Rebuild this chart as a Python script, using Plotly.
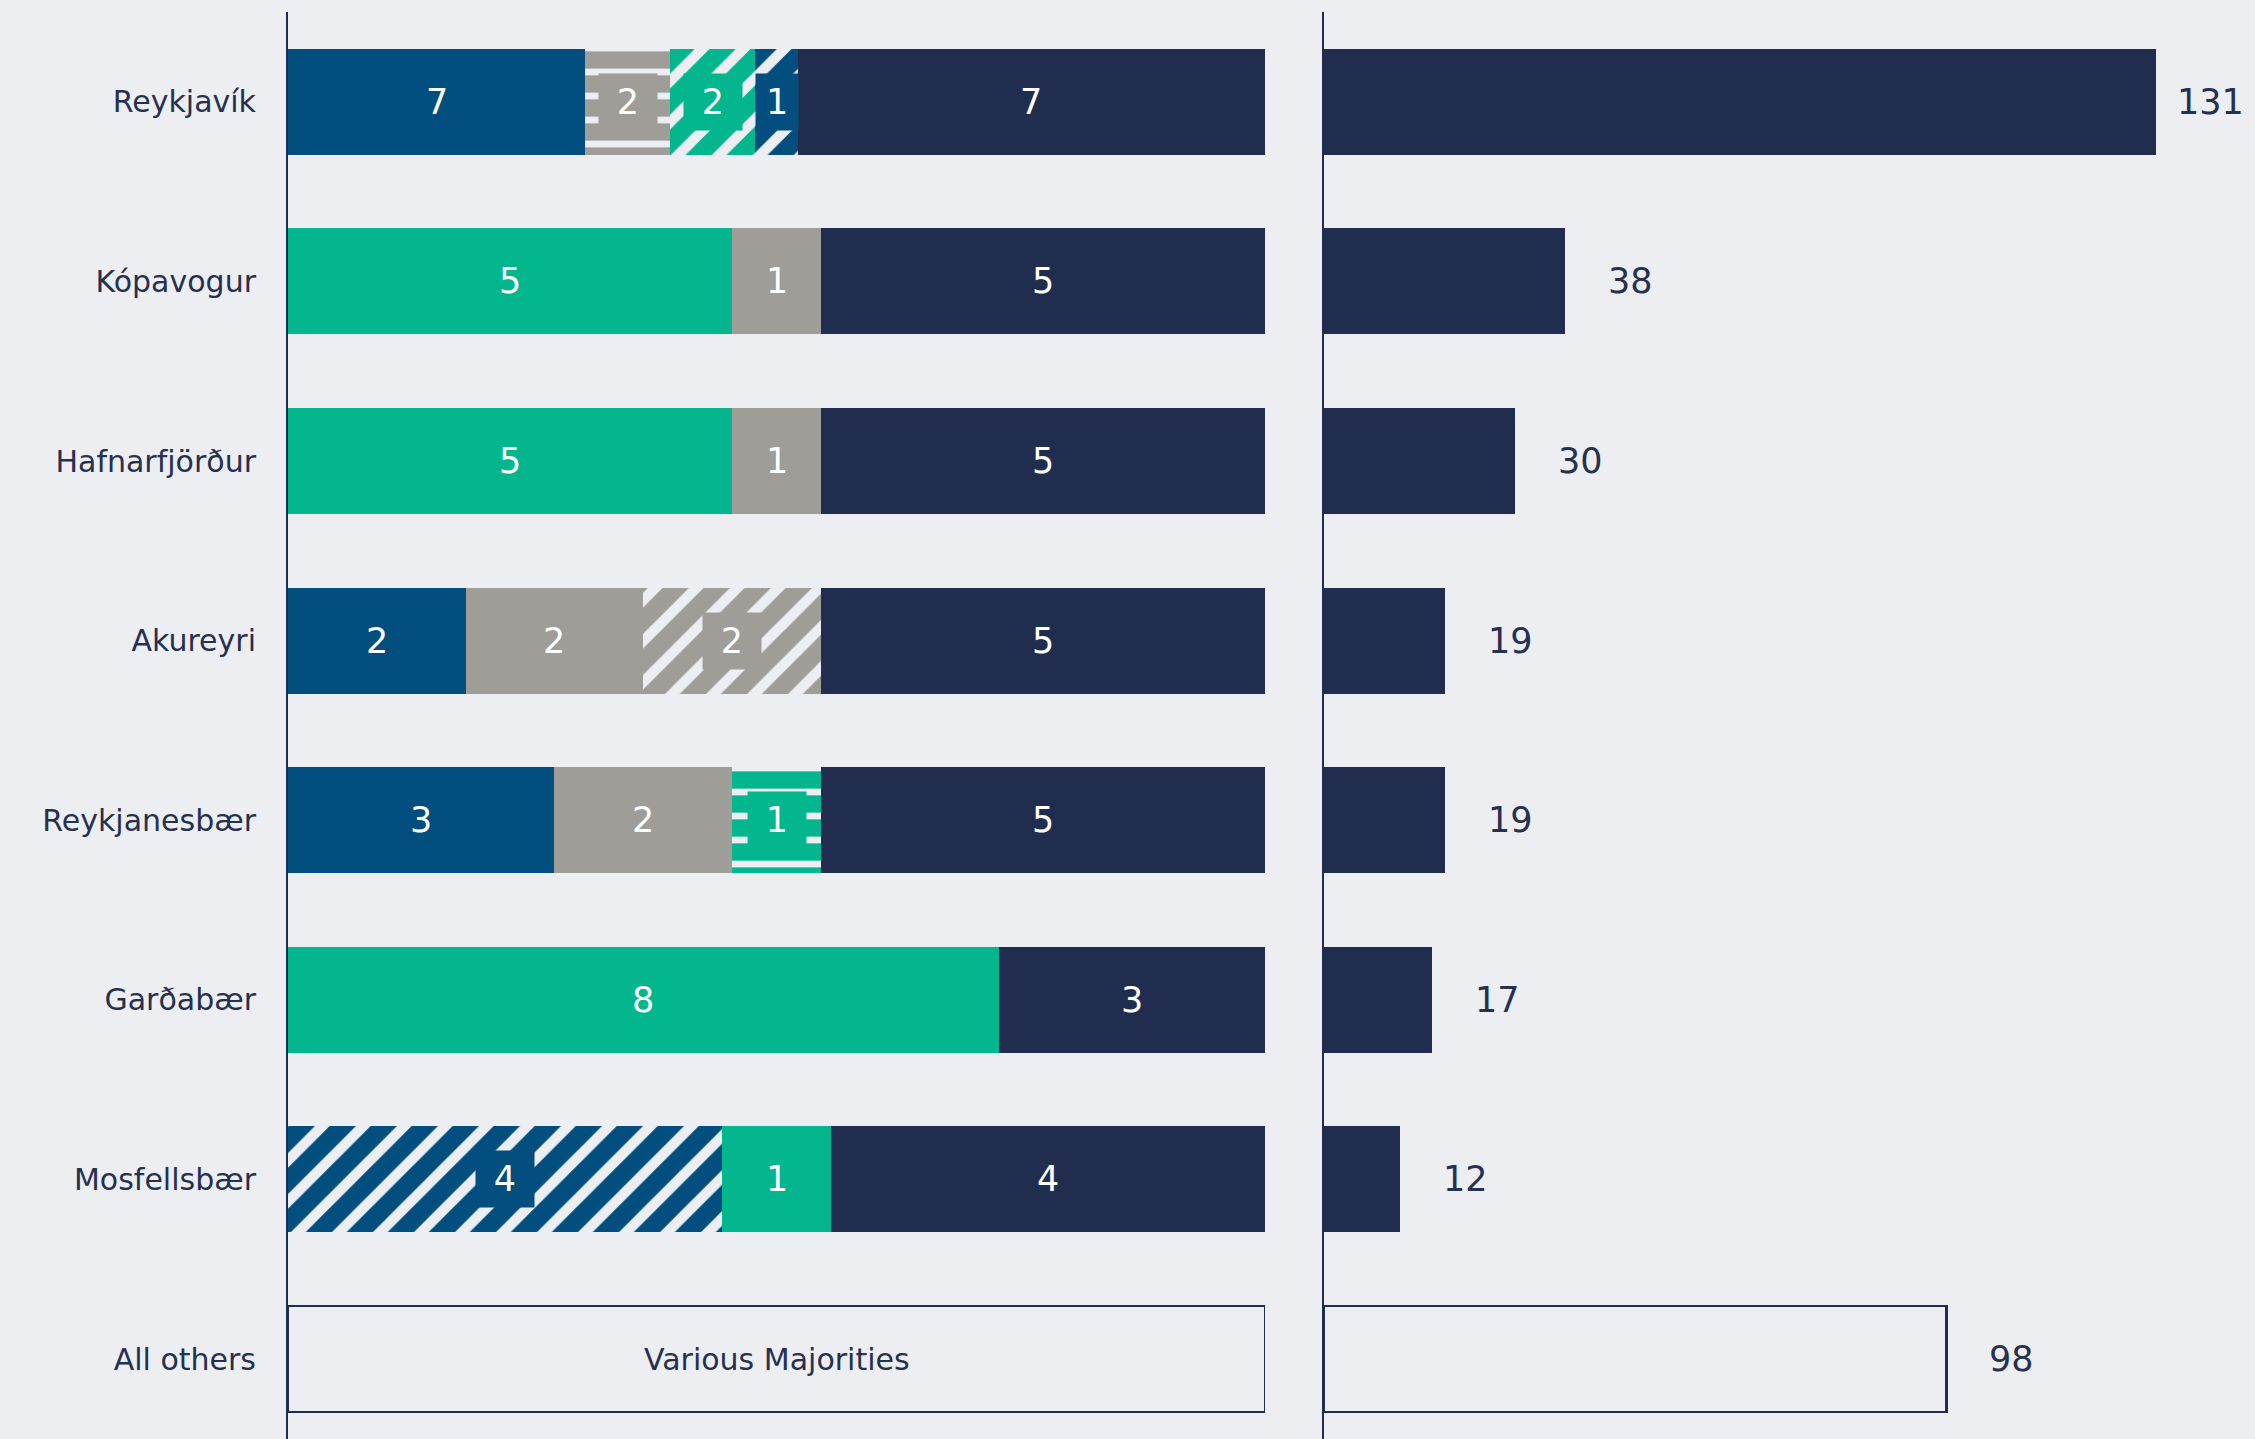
import plotly.graph_objects as go

# municipalities, top to bottom
cities = ["Reykjavík", "Kópavogur", "Hafnarfjörður", "Akureyri",
          "Reykjanesbær", "Garðabær", "Mosfellsbær", "All others"]

# council seats per municipality (the "All others" row has no split)
council_seats = [23, 11, 11, 11, 11, 11, 9]

# majority seats, one list per party block, in stacking order
blue_striped = [0, 0, 0, 0, 0, 0, 4]
blue_solid = [7, 0, 0, 2, 3, 0, 0]
green_solid = [0, 5, 5, 0, 0, 8, 1]
grey_solid = [0, 1, 1, 2, 2, 0, 0]
grey_wavy = [2, 0, 0, 0, 0, 0, 0]
green_striped = [2, 0, 0, 0, 0, 0, 0]
blue_striped_2 = [1, 0, 0, 0, 0, 0, 0]
grey_striped = [0, 0, 0, 2, 0, 0, 0]
green_wavy = [0, 0, 0, 0, 1, 0, 0]

# labels printed on the opposition (navy) segment
opposition_labels = [7, 5, 5, 5, 5, 3, 4]

# right panel
population_k = [131, 38, 30, 19, 19, 17, 12, 98]
others_text = "Various Majorities"

BG = "#ECEEF2"
NAVY = "#212D4F"
TEXT = "#26304F"
BLUE = "#024E7F"
GREEN = "#04B68E"
GREY = "#9E9D98"
FONT = "DejaVu Sans"

# style per block: (colour, pattern shape, pattern size, solidity)
majority_series = [
    (blue_striped, BLUE, "/", 29, 0.36),
    (blue_solid, BLUE, "", 0, 0),
    (green_solid, GREEN, "", 0, 0),
    (grey_solid, GREY, "", 0, 0),
    (grey_wavy, GREY, "-", 24, 0.28),
    (green_striped, GREEN, "/", 29, 0.36),
    (blue_striped_2, BLUE, "/", 29, 0.36),
    (grey_striped, GREY, "/", 29, 0.36),
    (green_wavy, GREEN, "-", 24, 0.28),
]

W, H = 2255, 1439
LEFT_DOM = [288 / W, 1265 / W]
RIGHT_DOM = [1324 / W, 1.0]
LEFT_PX = 1265 - 288
RIGHT_MAX = (W - 1324) / ((2156 - 1324) / 131)

n = len(council_seats)
rows = cities[:n]
majority_total = [sum(s[0][i] for s in majority_series) for i in range(n)]
opposition_seats = [council_seats[i] - majority_total[i] for i in range(n)]

fig = go.Figure()
annotations = []
cum = [0.0] * n

all_series = majority_series + [(opposition_seats, NAVY, "", 0, 0)]
for k, (vals, color, shape, size, solid) in enumerate(all_series):
    fr = [v / c for v, c in zip(vals, council_seats)]
    marker = dict(color=color, line=dict(width=0))
    if shape:
        marker["pattern"] = dict(shape=shape, size=size, solidity=solid,
                                 fgcolor=BG, fgopacity=1, fillmode="overlay")
    fig.add_trace(go.Bar(y=rows, x=fr, orientation="h", marker=marker,
                         xaxis="x", yaxis="y", showlegend=False,
                         hoverinfo="skip"))
    is_opp = k == len(all_series) - 1
    for i in range(n):
        if vals[i] <= 0:
            continue
        label = opposition_labels[i] if is_opp else vals[i]
        a = dict(x=cum[i] + fr[i] / 2, y=rows[i], xref="x", yref="y",
                 text=str(label), showarrow=False,
                 font=dict(family=FONT, size=35, color="#FFFFFF"))
        if shape:
            a.update(bgcolor=color, width=min(56, fr[i] * LEFT_PX - 2),
                     height=54)
        annotations.append(a)
        cum[i] += fr[i]

# All others box, left
fig.add_trace(go.Bar(y=[cities[-1]], x=[1], orientation="h",
                     marker=dict(color=BG, line=dict(color=NAVY, width=2.5)),
                     xaxis="x", yaxis="y", showlegend=False, hoverinfo="skip"))
annotations.append(dict(x=0.5, y=cities[-1], xref="x", yref="y",
                        text=others_text, showarrow=False,
                        font=dict(family=FONT, size=30, color=TEXT)))

# right panel
fig.add_trace(go.Bar(y=rows, x=population_k[:n], orientation="h",
                     marker=dict(color=NAVY, line=dict(width=0)),
                     xaxis="x2", yaxis="y2", showlegend=False,
                     hoverinfo="skip"))
fig.add_trace(go.Bar(y=[cities[-1]], x=[population_k[-1]], orientation="h",
                     marker=dict(color=BG, line=dict(color=NAVY, width=2.5)),
                     xaxis="x2", yaxis="y2", showlegend=False,
                     hoverinfo="skip"))
for c, v in zip(cities, population_k):
    annotations.append(dict(x=v, y=c, xref="x2", yref="y2", text=str(v),
                            showarrow=False, xanchor="right", xshift=90,
                            font=dict(family=FONT, size=35, color=TEXT)))

yrange = [7.445, -0.5]
fig.update_layout(
    width=W, height=H,
    margin=dict(l=0, r=0, t=12, b=0),
    paper_bgcolor=BG, plot_bgcolor=BG,
    barmode="stack", bargap=0.41,
    template="none",
    xaxis=dict(domain=LEFT_DOM, range=[0, 1], visible=False),
    xaxis2=dict(domain=RIGHT_DOM, range=[0, RIGHT_MAX], visible=False),
    yaxis=dict(type="category", categoryarray=cities, range=yrange,
               anchor="x", showline=True, linecolor=NAVY, linewidth=2,
               showgrid=False, zeroline=False, ticks="",
               ticklabelstandoff=24, automargin=False,
               tickfont=dict(family=FONT, size=30, color=TEXT)),
    yaxis2=dict(type="category", categoryarray=cities, range=yrange,
                anchor="x2", showline=True, linecolor=NAVY, linewidth=2,
                showgrid=False, zeroline=False, showticklabels=False,
                ticks="", automargin=False),
    annotations=annotations,
)

# drop the default page margin so the figure sits flush with the window
fig.write_html(
    "out.html",
    config={"displayModeBar": False},
    post_script="document.body.style.margin='0';"
                "document.body.style.background='#ECEEF2';",
)
